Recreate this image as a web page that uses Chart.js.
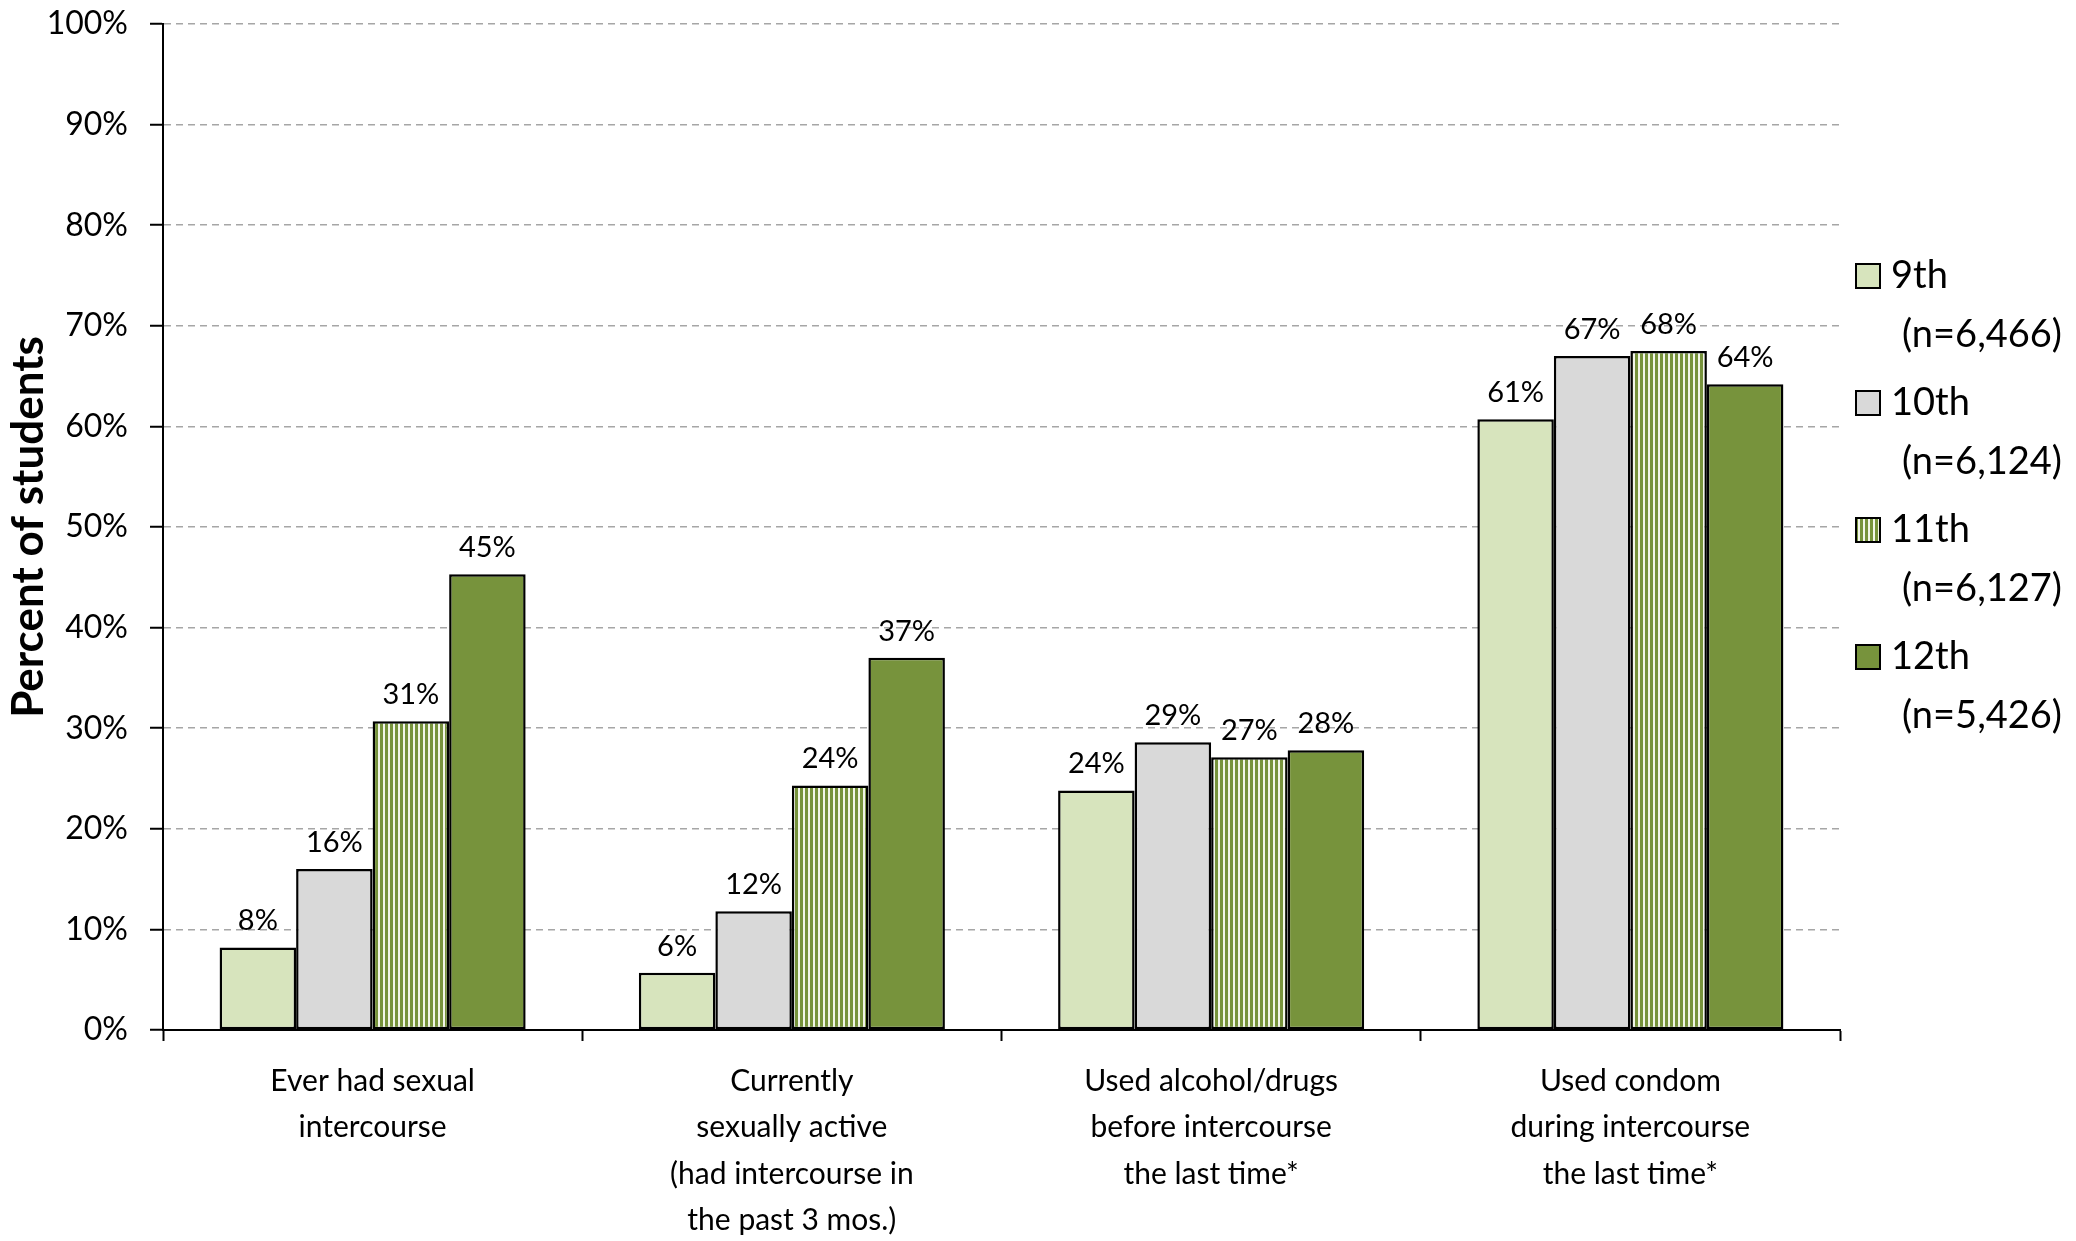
<!DOCTYPE html>
<html>
<head>
<meta charset="utf-8">
<script src="https://cdn.jsdelivr.net/npm/chart.js@4.4.1/dist/chart.umd.min.js"></script>
<style>
  html, body { margin: 0; padding: 0; background: #fff; }
  #wrap { width: 2076px; height: 1241px; }
</style>
</head>
<body>
<div id="wrap"><canvas id="riskChart" width="2076" height="1241"></canvas></div>
<script>
// Chart data
const categories = [
    ['Ever had sexual', 'intercourse'],
    ['Currently', 'sexually active', '(had intercourse in', 'the past 3 mos.)'],
    ['Used alcohol/drugs', 'before intercourse', 'the last time*'],
    ['Used condom', 'during intercourse', 'the last time*']
];
const grades = ['9th', '10th', '11th', '12th'];
const sampleSizes = ['(n=6,466)', '(n=6,124)', '(n=6,127)', '(n=5,426)'];
const values9 = [8.2, 5.7, 23.8, 60.7];
const values10 = [16.0, 11.8, 28.6, 67.0];
const values11 = [30.7, 24.3, 27.1, 67.5];
const values12 = [45.3, 37.0, 27.8, 64.2];
const yTicks = [0, 10, 20, 30, 40, 50, 60, 70, 80, 90, 100];

const FONT = 'Lato, "Open Sans", sans-serif';

// vertical stripe fill for the 11th grade bars
function makeStripes() {
    const c = document.createElement('canvas');
    c.width = 5; c.height = 5;
    const g = c.getContext('2d');
    g.fillStyle = '#F2F6E9';
    g.fillRect(0, 0, 5, 5);
    g.fillStyle = '#77933C';
    g.fillRect(0, 0, 3, 5);
    return g.createPattern(c, 'repeat');
}
const ctx = document.getElementById('riskChart').getContext('2d');
const stripes = makeStripes();
const fills = ['#D7E4BD', '#D9D9D9', stripes, '#77933C'];
const seriesValues = [values9, values10, values11, values12];

// value labels above the bars
const barLabels = {
    id: 'barLabels',
    afterDatasetsDraw(chart) {
        const c = chart.ctx;
        c.save();
        c.font = '29px ' + FONT;
        c.fillStyle = '#000';
        c.textAlign = 'center';
        c.textBaseline = 'bottom';
        chart.data.datasets.forEach((ds, i) => {
            chart.getDatasetMeta(i).data.forEach((bar, j) => {
                c.fillText(Math.round(ds.data[j]) + '%', bar.x, bar.y - 12);
            });
        });
        c.restore();
    }
};

// two-line legend on the right
const sideLegend = {
    id: 'sideLegend',
    afterDraw(chart) {
        const c = chart.ctx;
        c.save();
        c.font = '38px ' + FONT;
        c.fillStyle = '#000';
        c.textBaseline = 'middle';
        chart.data.datasets.forEach((ds, i) => {
            const y = 276 + i * 127;
            c.fillStyle = ds.backgroundColor;
            c.fillRect(1856, y - 12, 24, 24);
            c.lineWidth = 2;
            c.strokeStyle = '#000';
            c.strokeRect(1856, y - 12, 24, 24);
            c.fillStyle = '#000';
            c.fillText(grades[i], 1891, y);
            c.fillText(sampleSizes[i], 1902, y + 59);
        });
        c.restore();
    }
};

new Chart(ctx, {
    type: 'bar',
    data: {
        labels: categories,
        datasets: grades.map((g, i) => ({
            label: g + ' ' + sampleSizes[i],
            data: seriesValues[i],
            backgroundColor: fills[i],
            borderColor: '#000',
            borderWidth: 2.5,
            borderSkipped: false,
            categoryPercentage: 0.73,
            barPercentage: 1
        }))
    },
    options: {
        responsive: false,
        animation: false,
        layout: { padding: { top: 24, right: 236, left: 0, bottom: 0 } },
        plugins: {
            legend: { display: false },
            tooltip: { enabled: false }
        },
        scales: {
            x: {
                afterFit(scale) { scale.height = 211; },
                grid: {
                    offset: true,
                    drawOnChartArea: false,
                    tickLength: 11,
                    tickColor: '#000',
                    tickWidth: 2
                },
                border: { color: '#000', width: 2 },
                ticks: {
                    color: '#000',
                    font: { family: FONT, size: 30, lineHeight: 1.55 },
                    padding: 17,
                    maxRotation: 0,
                    autoSkip: false
                }
            },
            y: {
                min: 0,
                max: 100,
                afterFit(scale) {
                    scale.width = 163;
                    scale.paddingTop = 0;
                    scale.paddingBottom = 0;
                },
                afterBuildTicks(scale) { scale.ticks = yTicks.map(v => ({ value: v })); },
                grid: {
                    color: c2 => c2.tick && c2.tick.value === 0 ? 'rgba(0,0,0,0)' : '#A6A6A6',
                    lineWidth: 1.5,
                    tickLength: 13,
                    tickColor: '#000',
                    tickWidth: 2
                },
                border: { color: '#000', width: 2, dash: [7, 5] },
                ticks: {
                    color: '#000',
                    font: { family: FONT, size: 32 },
                    padding: 22,
                    callback: v => v + '%'
                },
                title: {
                    display: true,
                    text: 'Percent of students',
                    color: '#000',
                    font: { family: FONT, size: 44, weight: 'bold' },
                    padding: { top: 2, bottom: 0 }
                }
            }
        }
    },
    plugins: [barLabels, sideLegend]
});
</script>
</body>
</html>
